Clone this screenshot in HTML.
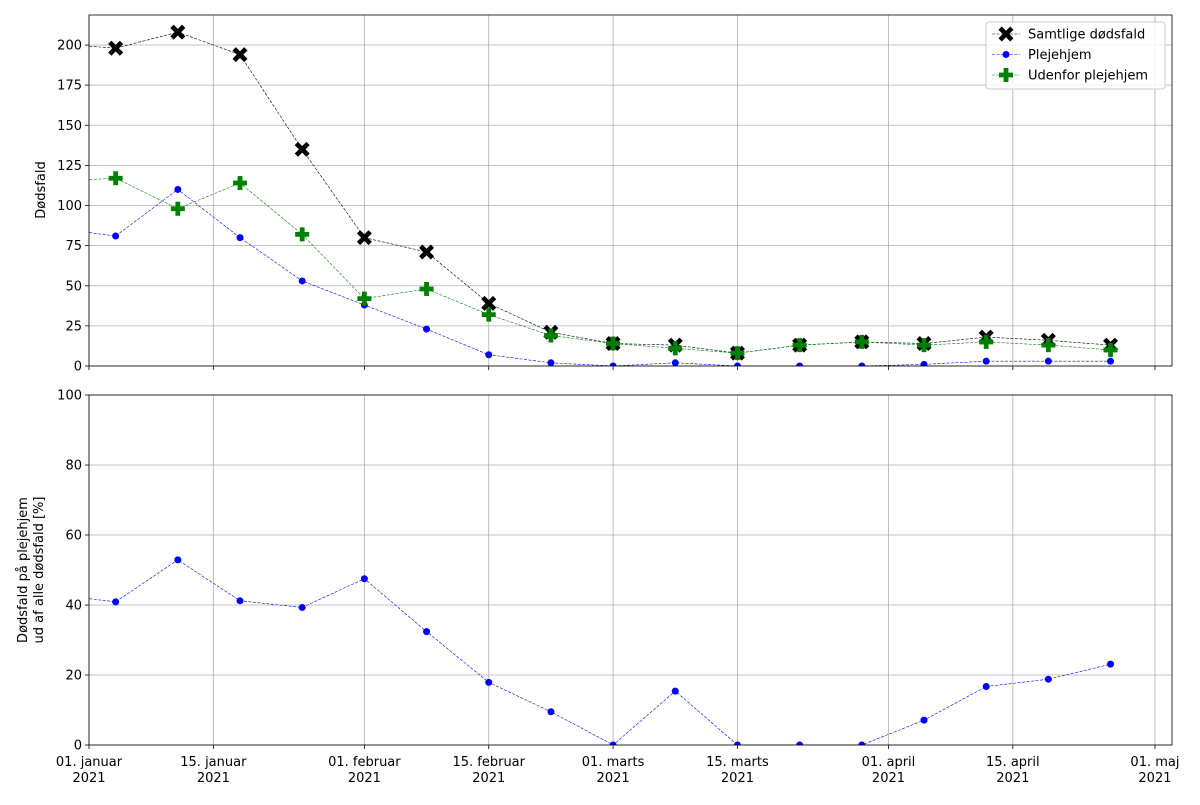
<!DOCTYPE html>
<html><head><meta charset="utf-8"><style>
body{margin:0;background:#fff;font-family:"Liberation Sans","DejaVu Sans",sans-serif;}
svg text{font-family:"DejaVu Sans","Liberation Sans",sans-serif;font-size:13px;fill:#000}
</style></head><body>
<svg id="c" width="1200" height="800" xmlns="http://www.w3.org/2000/svg"></svg>
<script>
const dayOffsets=[-4,3,10,17,24,31,38,45,52,59,66,73,80,87,94,101,108,115];
const totalDeaths=[201,198,208,194,135,80,71,39,21,14,13,8,13,15,14,18,16,13];
const careHomeDeaths=[86,81,110,80,53,38,23,7,2,0,2,0,0,0,1,3,3,3];
const outsideDeaths=[115,117,98,114,82,42,48,32,19,14,11,8,13,15,13,15,13,10];
const careHomePct=[43,40.9,52.9,41.2,39.3,47.5,32.4,17.9,9.5,0,15.4,0,0,0,7.1,16.7,18.8,23.1];
const xTickDays=[0,14,31,45,59,73,90,104,120];
const xTickLabels=["01. januar","15. januar","01. februar","15. februar","01. marts","15. marts","01. april","15. april","01. maj"];
const topTicks=[0,25,50,75,100,125,150,175,200];
const botTicks=[0,20,40,60,80,100];

const NS="http://www.w3.org/2000/svg";
const svg=document.getElementById('c');
function el(t,a,p){const e=document.createElementNS(NS,t);for(const k in a)e.setAttribute(k,a[k]);(p||svg).appendChild(e);return e;}
const L=89,R=1172;
const x=d=>L+d*8.883;
const T={top:15,bot:366,max:218.7};
const B={top:395,bot:745,max:100};
const yT=v=>T.bot-v*(T.bot-T.top)/T.max;
const yB=v=>B.bot-v*(B.bot-B.top)/B.max;

const defs=el('defs',{});
const cpT=el('clipPath',{id:'cpT'},defs);el('rect',{x:L,y:T.top,width:R-L,height:T.bot-T.top},cpT);
const cpB=el('clipPath',{id:'cpB'},defs);el('rect',{x:L,y:B.top,width:R-L,height:B.bot-B.top},cpB);

function grid(P,yf,ticks){
  const g=el('g',{});
  
  
  xTickDays.forEach((d,i)=>{
    el('line',{x1:x(d),x2:x(d),y1:P.top,y2:P.bot,stroke:'#b0b0b0','stroke-width':0.8},g);
    el('line',{x1:x(d),x2:x(d),y1:P.bot,y2:P.bot+4,stroke:'#000','stroke-width':0.8},g);
  });
  ticks.forEach(v=>{
    el('line',{x1:L,x2:R,y1:yf(v),y2:yf(v),stroke:'#b0b0b0','stroke-width':0.8},g);
    el('line',{x1:L-4,x2:L,y1:yf(v),y2:yf(v),stroke:'#000','stroke-width':0.8},g);
    const t=el('text',{x:L-7,y:yf(v)+4.5,'text-anchor':'end'},g);t.textContent=v;
    
    
  });
}
grid(T,yT,topTicks);
grid(B,yB,botTicks);

function marker(type,cx,cy,g){
  if(type==='X'){const s=7.5,w=3.3;
    el('path',{d:`M${cx-s} ${cy-s+w}L${cx-s+w} ${cy-s}L${cx} ${cy-w}L${cx+s-w} ${cy-s}L${cx+s} ${cy-s+w}L${cx+w} ${cy}L${cx+s} ${cy+s-w}L${cx+s-w} ${cy+s}L${cx} ${cy+w}L${cx-s+w} ${cy+s}L${cx-s} ${cy+s-w}L${cx-w} ${cy}Z`,fill:'#000'},g);}
  else if(type==='P'){const s=7,w=2.4;
    el('path',{d:`M${cx-w} ${cy-s}H${cx+w}V${cy-w}H${cx+s}V${cy+w}H${cx+w}V${cy+s}H${cx-w}V${cy+w}H${cx-s}V${cy-w}H${cx-w}Z`,fill:'#008000'},g);}
  else el('circle',{cx,cy,r:3.5,fill:'#0000ff'},g);
}
function series(vals,yf,color,type,clip,name){
  const g=el('g',{'clip-path':`url(#${clip})`});
  
  
  el('polyline',{points:vals.map((v,i)=>x(dayOffsets[i])+','+yf(v)).join(' '),fill:'none',stroke:color,'stroke-width':0.6,'stroke-dasharray':'3,1.5'},g);
  vals.forEach((v,i)=>marker(type,x(dayOffsets[i]),yf(v),g));
}
series(totalDeaths,yT,'#000','X','cpT','series-samtlige');
series(careHomeDeaths,yT,'#0000ff','o','cpT','series-plejehjem');
series(outsideDeaths,yT,'#008000','P','cpT','series-udenfor');
series(careHomePct,yB,'#0000ff','o','cpB','series-pct');

el('rect',{x:L,y:T.top,width:R-L,height:T.bot-T.top,fill:'none',stroke:'#000','stroke-width':0.8});
el('rect',{x:L,y:B.top,width:R-L,height:B.bot-B.top,fill:'none',stroke:'#000','stroke-width':0.8});

xTickDays.forEach((d,i)=>{
  const t=el('text',{x:x(d),y:766,'text-anchor':'middle'});t.textContent=xTickLabels[i];
  
  
  const t2=el('text',{x:x(d),y:782,'text-anchor':'middle'});t2.textContent='2021';
  
  
});

const yl=el('text',{x:45,y:190,'text-anchor':'middle',transform:'rotate(-90 45 190)'});yl.textContent='Dødsfald';


const yl2=el('text',{x:27,y:570,'text-anchor':'middle',transform:'rotate(-90 27 570)'});yl2.textContent='Dødsfald på plejehjem';


const yl3=el('text',{x:43,y:570,'text-anchor':'middle',transform:'rotate(-90 43 570)'});yl3.textContent='ud af alle dødsfald [%]';



const lg=el('g',{});


el('rect',{x:986,y:22,width:179,height:67,rx:3,fill:'#fff','fill-opacity':0.85,stroke:'#ccc'},lg);
[['Samtlige dødsfald','#000','X'],['Plejehjem','#0000ff','o'],['Udenfor plejehjem','#008000','P']].forEach((e,i)=>{
  const yy=34+i*20.5;
  const g=el('g',{},lg);
  
  
  el('line',{x1:992,x2:1020,y1:yy,y2:yy,stroke:e[1],'stroke-width':0.6,'stroke-dasharray':'3,1.5'},g);
  marker(e[2],1006,yy,g);
  const t=el('text',{x:1028,y:yy+4.5},g);t.textContent=e[0];
});
</script>
</body></html>
